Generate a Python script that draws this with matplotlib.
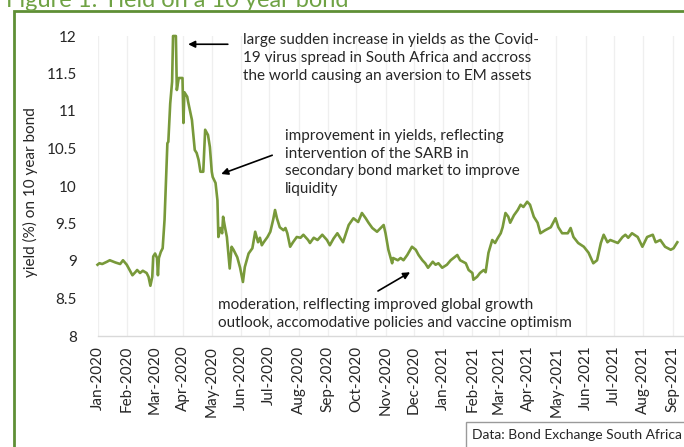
import matplotlib
matplotlib.use("Agg")
import matplotlib.pyplot as plt
import matplotlib.dates as mdates
from matplotlib.patches import Rectangle
import pandas as pd

plt.rcParams['font.family'] = ['Lato', 'DejaVu Sans']

# 10 year bond yield (%)
dates = [
    "2020-01-01", "2020-01-03", "2020-01-06", "2020-01-11", "2020-01-14", "2020-01-20",
    "2020-01-25", "2020-01-28", "2020-02-01", "2020-02-07", "2020-02-10", "2020-02-12",
    "2020-02-15", "2020-02-18", "2020-02-22", "2020-02-24", "2020-02-26", "2020-02-28",
    "2020-02-29", "2020-03-02", "2020-03-04", "2020-03-05", "2020-03-06", "2020-03-08",
    "2020-03-10", "2020-03-11", "2020-03-12", "2020-03-15", "2020-03-16", "2020-03-18",
    "2020-03-20", "2020-03-21", "2020-03-24", "2020-03-25", "2020-03-27", "2020-03-31",
    "2020-04-01", "2020-04-02", "2020-04-05", "2020-04-06", "2020-04-10", "2020-04-13",
    "2020-04-15", "2020-04-17", "2020-04-19", "2020-04-22", "2020-04-24", "2020-04-27",
    "2020-04-29", "2020-05-01", "2020-05-02", "2020-05-05", "2020-05-07", "2020-05-08",
    "2020-05-10", "2020-05-12", "2020-05-13", "2020-05-15", "2020-05-17", "2020-05-20",
    "2020-05-22", "2020-05-24", "2020-05-28", "2020-05-31", "2020-06-03", "2020-06-05",
    "2020-06-09", "2020-06-13", "2020-06-16", "2020-06-19", "2020-06-21", "2020-06-23",
    "2020-06-25", "2020-06-29", "2020-07-02", "2020-07-05", "2020-07-07", "2020-07-09",
    "2020-07-12", "2020-07-16", "2020-07-18", "2020-07-20", "2020-07-23", "2020-07-26",
    "2020-07-30", "2020-08-03", "2020-08-06", "2020-08-11", "2020-08-13", "2020-08-17",
    "2020-08-21", "2020-08-26", "2020-08-31", "2020-09-03", "2020-09-07", "2020-09-11",
    "2020-09-14", "2020-09-17", "2020-09-23", "2020-09-28", "2020-10-03", "2020-10-07",
    "2020-10-11", "2020-10-14", "2020-10-18", "2020-10-23", "2020-10-30", "2020-11-01",
    "2020-11-04", "2020-11-08", "2020-11-09", "2020-11-14", "2020-11-17", "2020-11-20",
    "2020-11-24", "2020-11-29", "2020-12-03", "2020-12-06", "2020-12-10", "2020-12-13",
    "2020-12-16", "2020-12-21", "2020-12-24", "2020-12-27", "2020-12-31", "2021-01-05",
    "2021-01-09", "2021-01-12", "2021-01-16", "2021-01-19", "2021-01-25", "2021-01-28",
    "2021-02-01", "2021-02-02", "2021-02-06", "2021-02-09", "2021-02-13", "2021-02-15",
    "2021-02-18", "2021-02-22", "2021-02-25", "2021-02-28", "2021-03-03", "2021-03-05",
    "2021-03-08", "2021-03-11", "2021-03-13", "2021-03-17", "2021-03-21", "2021-03-24",
    "2021-03-27", "2021-03-31", "2021-04-03", "2021-04-07", "2021-04-11", "2021-04-14",
    "2021-04-19", "2021-04-25", "2021-04-30", "2021-05-03", "2021-05-07", "2021-05-13",
    "2021-05-16", "2021-05-19", "2021-05-24", "2021-05-30", "2021-06-04", "2021-06-09",
    "2021-06-13", "2021-06-17", "2021-06-20", "2021-06-24", "2021-06-27", "2021-07-05",
    "2021-07-10", "2021-07-13", "2021-07-16", "2021-07-20", "2021-07-26", "2021-07-31",
    "2021-08-05", "2021-08-11", "2021-08-14", "2021-08-19", "2021-08-24", "2021-08-30",
    "2021-09-02", "2021-09-06",
]
yields = [
    8.95, 8.97, 8.96, 8.99, 9.01, 8.98,
    8.96, 9.01, 8.95, 8.81, 8.85, 8.88,
    8.84, 8.87, 8.84, 8.79, 8.67, 8.79,
    9.06, 9.10, 9.04, 8.81, 9.04, 9.12,
    9.17, 9.37, 9.55, 10.57, 10.59, 11.10,
    11.39, 12.00, 12.00, 11.28, 11.44, 11.44,
    10.84, 11.25, 11.19, 11.12, 10.88, 10.48,
    10.44, 10.35, 10.19, 10.19, 10.75, 10.68,
    10.52, 10.19, 10.12, 10.04, 9.81, 9.32,
    9.44, 9.37, 9.59, 9.45, 9.32, 8.90,
    9.19, 9.15, 9.05, 8.91, 8.72, 8.92,
    9.10, 9.17, 9.39, 9.25, 9.31, 9.21,
    9.25, 9.32, 9.39, 9.55, 9.68, 9.57,
    9.45, 9.41, 9.44, 9.37, 9.19, 9.25,
    9.32, 9.31, 9.35, 9.28, 9.24, 9.31,
    9.28, 9.35, 9.28, 9.21, 9.30, 9.37,
    9.31, 9.25, 9.48, 9.57, 9.52, 9.64,
    9.57, 9.51, 9.44, 9.39, 9.48, 9.37,
    9.15, 8.97, 9.04, 9.01, 9.04, 9.01,
    9.08, 9.19, 9.15, 9.08, 9.01, 8.97,
    8.91, 8.99, 8.95, 8.97, 8.91, 8.95,
    9.01, 9.04, 9.08, 9.01, 8.97, 8.88,
    8.84, 8.75, 8.79, 8.84, 8.88, 8.85,
    9.11, 9.28, 9.24, 9.31, 9.37, 9.45,
    9.64, 9.59, 9.51, 9.61, 9.68, 9.75,
    9.72, 9.79, 9.75, 9.59, 9.51, 9.37,
    9.41, 9.45, 9.57, 9.45, 9.37, 9.37,
    9.44, 9.32, 9.24, 9.19, 9.11, 8.97,
    9.01, 9.24, 9.35, 9.25, 9.28, 9.24,
    9.32, 9.35, 9.31, 9.37, 9.32, 9.19,
    9.32, 9.35, 9.25, 9.28, 9.19, 9.15,
    9.17, 9.25,
]

yticks = [8, 8.5, 9, 9.5, 10, 10.5, 11, 11.5, 12]
ytick_labels = ["8", "8.5", "9", "9.5", "10", "10.5", "11", "11.5", "12"]

title = "Figure 1: Yield on a 10 year bond"
ylabel = "yield (%) on 10 year bond"
note_spike = ("large sudden increase in yields as the Covid-\n"
              "19 virus spread in South Africa and accross\n"
              "the world causing an aversion to EM assets")
note_sarb = ("improvement in yields, reflecting\n"
             "intervention of the SARB in\n"
             "secondary bond market to improve\n"
             "liquidity")
note_calm = ("moderation, relflecting improved global growth\n"
             "outlook, accomodative policies and vaccine optimism")
source = "Data: Bond Exchange South Africa"

dt = pd.to_datetime(dates)
green = '#78993a'
text_col = '#262626'
W, H = 684, 447

fig = plt.figure(figsize=(W / 100, H / 100), dpi=100)
ax = fig.add_axes([97.5 / W, (H - 336) / H, (683 - 97.5) / W, 300 / H])

ax.plot(dt, yields, color=green, lw=1.9, clip_on=False, zorder=3)

ax.set_xlim(pd.Timestamp("2020-01-01"), pd.Timestamp("2021-09-12"))
ax.set_ylim(8, 12)
ax.set_yticks(yticks)
ax.set_yticklabels(ytick_labels)

months = pd.date_range("2020-01-01", "2021-09-01", freq="MS")
ax.set_xticks(months)
ax.xaxis.set_major_formatter(mdates.DateFormatter("%b-%Y"))
ax.tick_params(axis='x', labelrotation=90, length=0, pad=7, labelsize=11, labelcolor=text_col)
ax.tick_params(axis='y', length=0, pad=15, labelsize=11, labelcolor=text_col)
ax.grid(axis='x', color='#efefef', lw=0.9)
ax.set_axisbelow(True)
for s in ['top', 'right', 'left']:
    ax.spines[s].set_visible(False)
ax.spines['bottom'].set_color('#d9d9d9')
ax.spines['bottom'].set_linewidth(1)

fig.text(30 / W, 1 - 192 / H, ylabel, rotation=90, ha='center', va='center',
         fontsize=11, color=text_col)

# arrows pointing at the series
arrow = dict(arrowstyle='-|>', color='black', lw=1.2, mutation_scale=10,
             shrinkA=0, shrinkB=0)
ax.annotate('', xy=(pd.Timestamp("2020-04-06"), 11.89),
            xytext=(pd.Timestamp("2020-05-18"), 11.89), arrowprops=arrow,
            annotation_clip=False)
ax.annotate('', xy=(pd.Timestamp("2020-05-11"), 10.16),
            xytext=(pd.Timestamp("2020-07-04"), 10.41), arrowprops=arrow)
ax.annotate('', xy=(pd.Timestamp("2020-11-27"), 8.85),
            xytext=(pd.Timestamp("2020-10-24"), 8.60), arrowprops=arrow)

fig.text(243 / W, 1 - 58 / H, note_spike, ha='left', va='center',
         fontsize=11, color=text_col, linespacing=1.33)
fig.text(285 / W, 1 - 162.5 / H, note_sarb, ha='left', va='center',
         fontsize=11, color=text_col, linespacing=1.33)
fig.text(218 / W, 1 - 314 / H, note_calm, ha='left', va='center',
         fontsize=11, color=text_col, linespacing=1.33)

# green panel border and heading
fig.patches.append(Rectangle((14 / W, -0.1), 1.1, (H - 11) / H + 0.1,
                             transform=fig.transFigure, fill=False,
                             edgecolor='#5f8f35', lw=2, clip_on=False))
fig.text(6 / W, 1 - 7 / H, title, ha='left', va='baseline', fontsize=17,
         color='#6fa244')

# source box
fig.patches.append(Rectangle((466 / W, -0.1), 0.5, (H - 422) / H + 0.1,
                             transform=fig.transFigure, fill=False,
                             edgecolor='#9a9a9a', lw=1))
fig.text(472 / W, 1 - 435 / H, source, ha='left', va='center',
         fontsize=10, color=text_col)

fig.savefig("out.png", dpi=100)
